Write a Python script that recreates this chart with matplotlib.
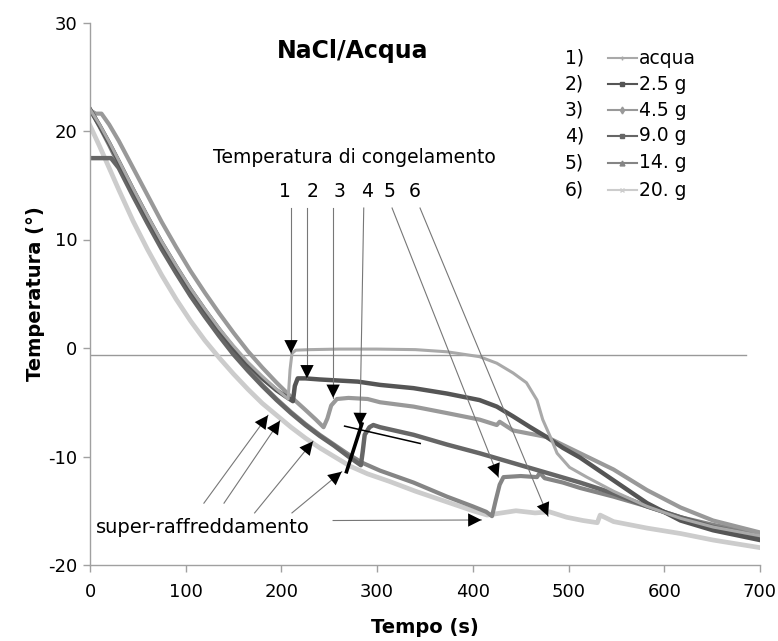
import matplotlib
matplotlib.use('Agg')
import matplotlib.pyplot as plt
from matplotlib.lines import Line2D

plt.rcParams['font.family'] = ['DejaVu Sans']
plt.rcParams['axes.unicode_minus'] = False

# ---------------- data ----------------
t1 = [0, 10, 20, 30, 45, 60, 75, 90, 105, 120, 135, 150, 165, 180, 195, 203, 207, 209, 211, 215, 230, 260, 300, 340, 373, 407, 425, 442, 456, 467, 473, 481, 488, 501, 519, 547, 582, 617, 651, 700]
T1 = [22.0, 20.6, 19.0, 17.3, 14.7, 12.2, 9.8, 7.6, 5.5, 3.6, 1.8, 0.2, -1.3, -2.6, -3.8, -4.4, -4.7, -2.0, -0.5, -0.2, -0.15, -0.1, -0.1, -0.15, -0.35, -0.8, -1.4, -2.3, -3.2, -4.8, -6.6, -8.2, -9.7, -11.0, -11.9, -13.2, -14.6, -15.7, -16.5, -17.3]

t2 = [0, 10, 20, 30, 45, 60, 75, 90, 105, 120, 135, 150, 165, 180, 195, 205, 212, 214, 217, 225, 240, 260, 280, 303, 338, 373, 407, 425, 442, 460, 477, 494, 512, 547, 582, 617, 651, 700]
T2 = [22.0, 20.5, 18.9, 17.2, 14.6, 12.1, 9.7, 7.5, 5.4, 3.5, 1.7, 0.0, -1.5, -2.8, -3.9, -4.5, -4.9, -3.5, -2.8, -2.8, -2.9, -3.0, -3.1, -3.4, -3.7, -4.2, -4.8, -5.4, -6.3, -7.3, -8.2, -9.2, -10.1, -12.2, -14.3, -15.9, -16.8, -17.7]

t3 = [0, 6, 12, 20, 30, 45, 60, 75, 90, 105, 120, 135, 150, 165, 180, 195, 210, 225, 236, 244, 248, 252, 258, 270, 290, 303, 338, 373, 407, 425, 428, 442, 477, 512, 547, 582, 617, 651, 700]
T3 = [21.9, 21.6, 21.6, 20.6, 19.1, 16.6, 14.1, 11.6, 9.3, 7.1, 5.1, 3.2, 1.4, -0.3, -1.8, -3.2, -4.5, -5.7, -6.6, -7.3, -6.5, -5.3, -4.7, -4.6, -4.7, -5.0, -5.4, -6.0, -6.6, -7.1, -6.8, -7.6, -8.2, -9.7, -11.2, -13.1, -14.7, -15.9, -17.0]

t4 = [0, 22, 30, 45, 60, 75, 90, 105, 120, 135, 150, 165, 180, 195, 210, 225, 240, 255, 270, 283, 285, 287, 292, 296, 303, 338, 373, 407, 442, 477, 512, 547, 582, 617, 651, 700]
T4 = [17.5, 17.5, 16.6, 14.0, 11.5, 9.1, 6.9, 4.8, 2.9, 1.1, -0.6, -2.1, -3.5, -4.8, -6.0, -7.1, -8.1, -9.0, -10.0, -10.8, -9.5, -8.0, -7.3, -7.1, -7.3, -8.0, -8.9, -9.7, -10.6, -11.5, -12.4, -13.4, -14.6, -15.6, -16.5, -17.4]

t5 = [0, 10, 20, 30, 45, 60, 75, 90, 105, 120, 135, 150, 165, 180, 195, 210, 225, 240, 255, 270, 285, 303, 338, 373, 400, 414, 420, 424, 428, 432, 450, 467, 470, 475, 494, 512, 547, 582, 617, 651, 700]
T5 = [22.0, 20.4, 18.7, 16.9, 14.3, 11.7, 9.3, 7.0, 4.9, 3.0, 1.2, -0.5, -2.0, -3.4, -4.7, -5.9, -7.0, -8.0, -8.9, -9.8, -10.6, -11.3, -12.4, -13.7, -14.6, -15.1, -15.5, -14.0, -12.6, -11.9, -11.8, -11.9, -11.5, -12.0, -12.4, -12.9, -13.7, -14.6, -15.6, -16.3, -17.1]

t6 = [0, 10, 20, 30, 45, 60, 75, 90, 105, 120, 135, 150, 165, 180, 195, 210, 225, 240, 255, 272, 290, 313, 340, 370, 400, 415, 430, 445, 465, 480, 498, 515, 530, 533, 547, 582, 617, 651, 700]
T6 = [20.5, 18.6, 16.6, 14.6, 11.7, 9.1, 6.7, 4.5, 2.5, 0.7, -0.9, -2.4, -3.8, -5.1, -6.2, -7.3, -8.3, -9.2, -10.0, -10.9, -11.6, -12.3, -13.2, -14.1, -15.0, -15.4, -15.2, -15.0, -15.2, -15.1, -15.6, -15.9, -16.1, -15.4, -16.0, -16.6, -17.1, -17.7, -18.4]

series_labels = ['acqua', '2.5 g', '4.5 g', '9.0 g', '14. g', '20. g']
series_nums = ['1)', '2)', '3)', '4)', '5)', '6)']

freeze_ref_T = -0.65
freeze_ref_t = [0, 685]

# freezing-point arrows: label, top (t, T), tip (t, T)
freeze_labels = ['1', '2', '3', '4', '5', '6']
freeze_label_t = [204, 233, 261, 289, 313, 339]
freeze_top = [(210, 12.9), (226.7, 12.9), (254, 12.9), (286, 12.9), (315.6, 12.9), (344.8, 12.9)]
freeze_tip = [(210, -0.5), (226.7, -2.8), (254, -4.6), (282, -7.2), (426.7, -11.9), (478.6, -15.5)]

# supercooling arrows: start (t, T), tip (t, T)
super_start = [(119, -14.3), (140, -14.3), (172, -15.2), (211, -15.2), (254, -15.9)]
super_tip = [(186, -6.2), (198.5, -6.7), (233, -8.6), (263, -11.4), (409, -15.85)]

bold_seg_t = [268, 284]
bold_seg_T = [-11.4, -7.0]
thin_seg_t = [266, 345]
thin_seg_T = [-7.2, -8.8]

# ---------------- style ----------------
W, H = 778, 641
fig = plt.figure(figsize=(W / 100, H / 100), dpi=100)
ax = fig.add_axes([90 / W, 1 - 565 / H, 670 / W, (565 - 22.5) / H])

colors = ['#a9a9a9', '#555555', '#999999', '#666666', '#858585', '#cccccc']
widths = [2.2, 3.2, 3.0, 3.2, 3.0, 3.4]
markers = ['+', 's', 'd', 's', '^', 'x']

ax.plot(freeze_ref_t, [freeze_ref_T, freeze_ref_T], color='#999999', lw=1.0, zorder=1)

data = [(t1, T1), (t2, T2), (t3, T3), (t4, T4), (t5, T5), (t6, T6)]
order = [5, 4, 3, 2, 1, 0]
for i in order:
    tt, TT = data[i]
    ax.plot(tt, TT, color=colors[i], lw=widths[i], solid_joinstyle='round', zorder=2 + (5 - i) * 0.1)

ax.set_xlim(0, 700)
ax.set_ylim(-20, 30)
ax.set_xticks([0, 100, 200, 300, 400, 500, 600, 700])
ax.set_yticks([-20, -10, 0, 10, 20, 30])
for s in ['top', 'right']:
    ax.spines[s].set_visible(False)
for s in ['left', 'bottom']:
    ax.spines[s].set_color('#a0a0a0')
    ax.spines[s].set_linewidth(1.0)
ax.tick_params(axis='both', colors='#a0a0a0', labelcolor='black', labelsize=13, length=5, width=1, direction='out')
ax.tick_params(axis='x', pad=8)
ax.tick_params(axis='y', pad=4)

ax.set_xlabel('Tempo (s)', fontsize=14, fontweight='bold', labelpad=12)
ax.set_ylabel('Temperatura (°)', fontsize=14, fontweight='bold', labelpad=2)

# title
fig.text(353 / W, 1 - 51 / H, 'NaCl/Acqua', fontsize=17, fontweight='bold', ha='center', va='center')

# annotations text
ax.text(276, 17.6, 'Temperatura di congelamento', fontsize=13.5, ha='center', va='center')
for lab, lt in zip(freeze_labels, freeze_label_t):
    ax.text(lt, 14.4, lab, fontsize=13.5, ha='center', va='center')
ax.text(118, -16.5, 'super-raffreddamento', fontsize=14, ha='center', va='center')


def arrow(start, tip):
    ax.plot([start[0], tip[0]], [start[1], tip[1]], color='#777777', lw=0.8, zorder=6)
    dx = tip[0] - start[0]
    dy = tip[1] - start[1]
    back = (tip[0] - 0.2 * dx, tip[1] - 0.2 * dy)
    ax.annotate('', xy=tip, xytext=back,
                arrowprops=dict(arrowstyle='-|>', fc='black', ec='none', lw=0,
                                mutation_scale=24, shrinkA=0, shrinkB=0), zorder=7)


for s_, e_ in zip(freeze_top, freeze_tip):
    arrow(s_, e_)
for s_, e_ in zip(super_start, super_tip):
    arrow(s_, e_)

ax.plot(bold_seg_t, bold_seg_T, color='black', lw=2.6, zorder=8)
ax.plot(thin_seg_t, thin_seg_T, color='black', lw=1.1, zorder=8)

# legend (manual)
row_y = [58, 84, 110, 136, 163, 190]
for i in range(6):
    yf = 1 - row_y[i] / H
    fig.text(565 / W, yf, series_nums[i], fontsize=13.5, ha='left', va='center')
    fig.add_artist(Line2D([608 / W, 637 / W], [yf, yf], color=colors[i], lw=1.5,
                          transform=fig.transFigure))
    fig.add_artist(Line2D([622 / W], [yf], color=colors[i], marker=markers[i], ms=3.5,
                          mew=1, transform=fig.transFigure))
    fig.text(639 / W, yf, series_labels[i], fontsize=13.5, ha='left', va='center')

fig.savefig('out.png', dpi=100, facecolor='white')
